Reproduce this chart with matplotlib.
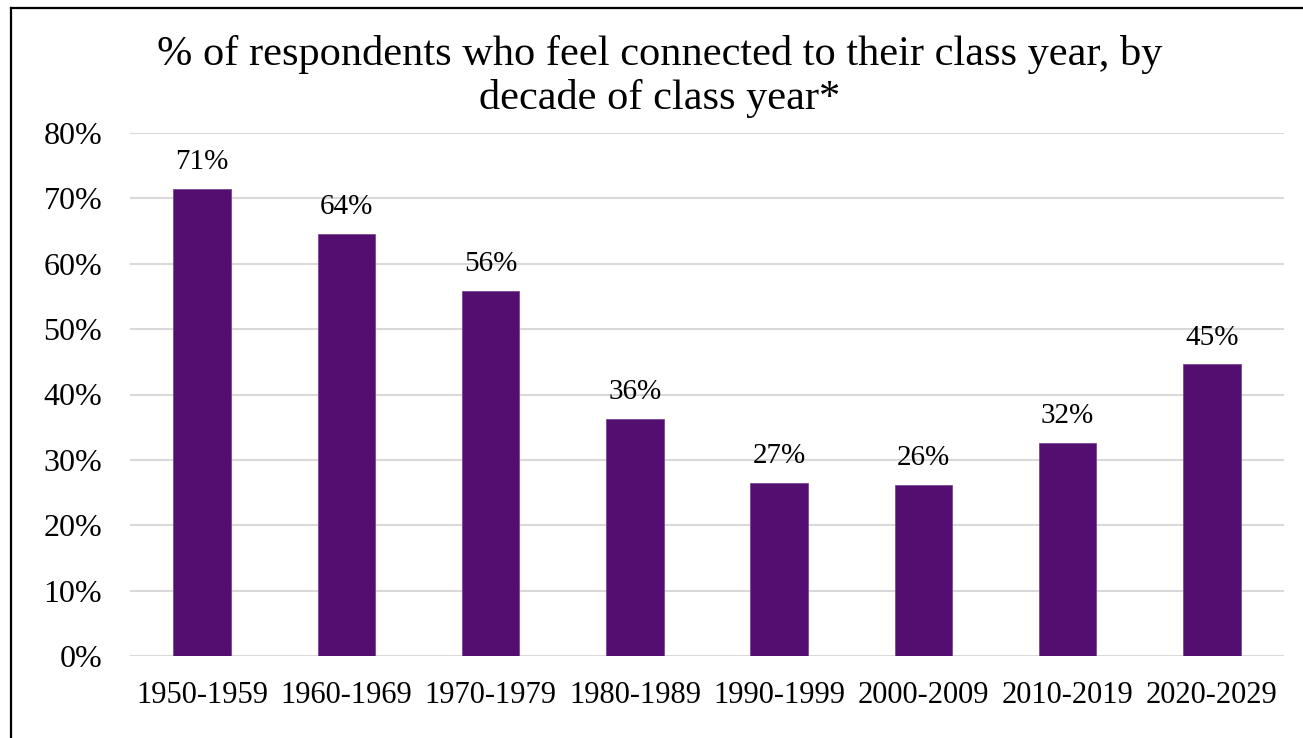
import matplotlib
matplotlib.use("Agg")
import matplotlib.pyplot as plt
from matplotlib.lines import Line2D

categories = ["1950-1959", "1960-1969", "1970-1979", "1980-1989",
              "1990-1999", "2000-2009", "2010-2019", "2020-2029"]
values = [71.4, 64.5, 55.8, 36.2, 26.5, 26.1, 32.6, 44.6]
labels = ["71%", "64%", "56%", "36%", "27%", "26%", "32%", "45%"]
yticks = [0, 10, 20, 30, 40, 50, 60, 70, 80]
title_line1 = "% of respondents who feel connected to their class year, by"
title_line2 = "decade of class year*"

plt.rcParams['font.family'] = ['Liberation Serif', 'DejaVu Serif']

W, H = 1303, 738
fig = plt.figure(figsize=(W / 100, H / 100), dpi=100)
ax = fig.add_axes([130 / W, 1 - 656 / H, (1284 - 130) / W, (656 - 133) / H])

x = range(len(categories))
bars = ax.bar(x, values, width=0.40, color="#530E6F", edgecolor="#7a4a90", linewidth=0.6, zorder=3)
for xi, v, lab in zip(x, values, labels):
    ax.annotate(lab, (xi, v), xytext=(0, 10), textcoords="offset points",
                ha="center", va="bottom", fontsize=21, color="#000000")

ax.set_xlim(-0.5, len(categories) - 0.5)
ax.set_ylim(0, 80)
ax.set_yticks(yticks)
ax.set_yticklabels([f"{t}%" for t in yticks])
ax.set_xticks(list(x))
ax.set_xticklabels(categories)
ax.tick_params(axis="y", length=0, pad=20, labelsize=23)
ax.tick_params(axis="x", length=0, pad=18, labelsize=22)
ax.grid(axis="y", color="#d9d9d9", linewidth=1.5, zorder=0)
for s in ax.spines.values():
    s.set_visible(False)

fig.text(660 / W, 1 - 65 / H, title_line1, ha="center", va="baseline", fontsize=30.5)
fig.text(660 / W, 1 - 109 / H, title_line2, ha="center", va="baseline", fontsize=30.5)

# outer frame (left and top edges)
fig.add_artist(Line2D([11 / W, 11 / W], [0, 1 - 8 / H], color="black", linewidth=1.6, transform=fig.transFigure))
fig.add_artist(Line2D([11 / W, 1], [1 - 8 / H, 1 - 8 / H], color="black", linewidth=1.6, transform=fig.transFigure))

fig.savefig("out.png", dpi=100)
